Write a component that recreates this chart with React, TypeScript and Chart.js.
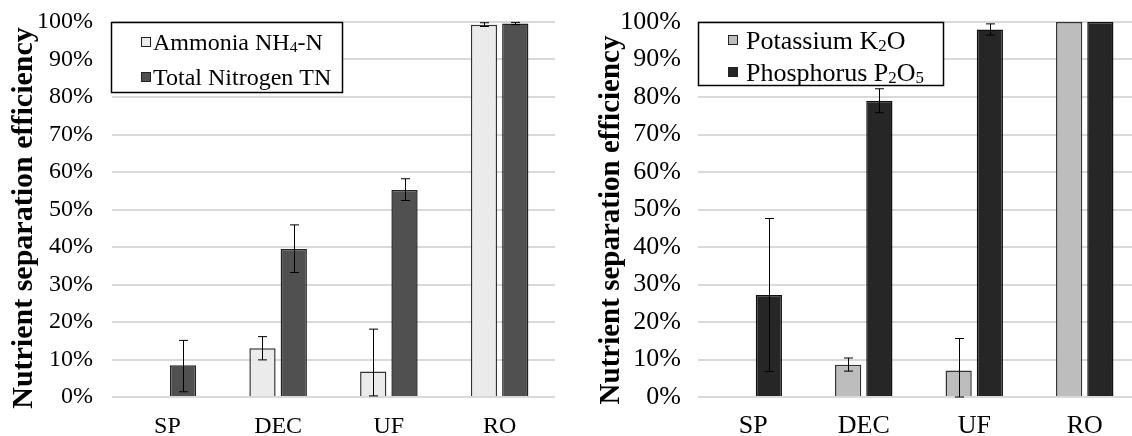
import React, { useEffect, useRef } from "react";
import { Chart, registerables } from "chart.js";

Chart.register(...registerables);

// ---------- data ----------
const categories = ["SP", "DEC", "UF", "RO"];
const yTitle = "Nutrient separation efficiency";

const ammoniaLabel = "Ammonia NH_4-N";
const ammonia = [null, 13.0, 6.8, 99.3];
const ammoniaErrUp = [null, 3.1, 11.3, 0.5];
const ammoniaErrDown = [null, 3.1, 6.5, 0.5];

const nitrogenLabel = "Total Nitrogen TN";
const nitrogen = [8.5, 39.5, 55.2, 99.6];
const nitrogenErrUp = [6.6, 6.4, 3.0, 0.3];
const nitrogenErrDown = [7.1, 6.3, 2.8, 0.3];

const potassiumLabel = "Potassium K_2O";
const potassium = [null, 8.6, 7.1, 100];
const potassiumErrUp = [null, 1.8, 8.5, 0];
const potassiumErrDown = [null, 1.7, 7.1, 0];

const phosphorusLabel = "Phosphorus P_2O_5";
const phosphorus = [27.2, 79.0, 98.0, 100];
const phosphorusErrUp = [20.4, 3.2, 1.5, 0];
const phosphorusErrDown = [20.4, 3.2, 1.5, 0];

const FONT = '"Liberation Serif", "Times New Roman", serif';

// ---------- plugins ----------
const errorBarPlugin = {
  id: "errorBars",
  afterDatasetsDraw(chart: any) {
    const ctx = chart.ctx;
    const yScale = chart.scales.y;
    ctx.save();
    ctx.strokeStyle = "#000";
    ctx.lineWidth = 1;
    chart.data.datasets.forEach((ds: any, i: number) => {
      const meta = chart.getDatasetMeta(i);
      meta.data.forEach((el: any, j: number) => {
        const v = ds.data[j];
        if (v === null || v === undefined) return;
        const up = ds.errUp ? ds.errUp[j] : 0;
        const down = ds.errDown ? ds.errDown[j] : 0;
        if (!up && !down) return;
        const x = Math.round(el.x) + 0.5;
        const yT = yScale.getPixelForValue(v + (up || 0));
        const yB = yScale.getPixelForValue(v - (down || 0));
        const cap = 4.5;
        ctx.beginPath();
        ctx.moveTo(x, yT);
        ctx.lineTo(x, yB);
        ctx.moveTo(x - cap, yT);
        ctx.lineTo(x + cap, yT);
        ctx.moveTo(x - cap, yB);
        ctx.lineTo(x + cap, yB);
        ctx.stroke();
      });
    });
    ctx.restore();
  },
};

function drawRich(ctx: CanvasRenderingContext2D, text: string, x: number, baseline: number, size: number) {
  const parts = text.split(/(_\d)/).filter((p) => p.length > 0);
  let cx = x;
  for (const p of parts) {
    if (p.startsWith("_")) {
      const s = p.slice(1);
      ctx.font = `${size * 0.65}px ${FONT}`;
      ctx.fillText(s, cx, baseline + size * 0.08);
      cx += ctx.measureText(s).width;
    } else {
      ctx.font = `${size}px ${FONT}`;
      ctx.fillText(p, cx, baseline);
      cx += ctx.measureText(p).width;
    }
  }
}

const boxLegendPlugin = {
  id: "boxLegend",
  afterDraw(chart: any, _args: any, opts: any) {
    if (!opts || !opts.box) return;
    const ctx = chart.ctx;
    const { x, y, w, h } = opts.box;
    ctx.save();
    ctx.fillStyle = "#fff";
    ctx.fillRect(x, y, w, h);
    ctx.strokeStyle = "#000";
    ctx.lineWidth = 1.5;
    ctx.strokeRect(x, y, w, h);
    ctx.textBaseline = "alphabetic";
    ctx.textAlign = "left";
    chart.data.datasets.forEach((ds: any, i: number) => {
      const cy = opts.rowY[i];
      const sq = opts.square;
      ctx.fillStyle = ds.backgroundColor;
      ctx.fillRect(opts.squareX, cy - sq / 2, sq, sq);
      ctx.strokeStyle = "#222";
      ctx.lineWidth = 1;
      ctx.strokeRect(opts.squareX + 0.5, cy - sq / 2 + 0.5, sq - 1, sq - 1);
      ctx.fillStyle = "#000";
      drawRich(ctx, ds.label, opts.textX, cy + opts.fontSize * 0.33, opts.fontSize);
    });
    ctx.restore();
  },
};

const axisTitlePlugin = {
  id: "axisTitle",
  afterDraw(chart: any, _args: any, opts: any) {
    if (!opts || !opts.text) return;
    const ctx = chart.ctx;
    ctx.save();
    ctx.translate(opts.x, opts.y);
    ctx.rotate(-Math.PI / 2);
    ctx.font = `bold ${opts.size}px ${FONT}`;
    ctx.fillStyle = "#000";
    ctx.textAlign = "center";
    ctx.textBaseline = "middle";
    ctx.fillText(opts.text, 0, 0);
    ctx.restore();
  },
};

type Series = { label: string; data: (number | null)[]; up: (number | null)[]; down: (number | null)[]; color: string; border: string };

type Spec = {
  series: Series[];
  fontSize: number;
  padRight: number;
  yWidth: number;
  xPad: number;
  yPad: number;
  legend: any;
  title: any;
};

function makeConfig(spec: Spec): any {
  const font = { family: FONT, size: spec.fontSize };
  return {
    type: "bar",
    data: {
      labels: categories,
      datasets: spec.series.map((s) => ({
        label: s.label,
        data: s.data,
        errUp: s.up,
        errDown: s.down,
        backgroundColor: s.color,
        borderColor: s.border,
        borderWidth: 1.5,
        categoryPercentage: 0.565,
        barPercentage: 0.84,
      })),
    },
    options: {
      responsive: false,
      animation: false,
      events: [],
      layout: { padding: { top: 22, right: spec.padRight, left: 0, bottom: 0 } },
      plugins: {
        legend: { display: false },
        tooltip: { enabled: false },
        boxLegend: spec.legend,
        axisTitle: spec.title,
      },
      scales: {
        x: {
          grid: { display: false, drawTicks: false },
          border: { display: false },
          ticks: { font, color: "#000", padding: spec.xPad },
          afterFit: (s: any) => {
            s.height = 45;
          },
        },
        y: {
          min: 0,
          max: 100,
          ticks: {
            stepSize: 10,
            font,
            color: "#000",
            padding: 0,
            callback: (v: any) => v + "%",
          },
          grid: {
            color: "#d9d9d9",
            lineWidth: 2,
            drawTicks: true,
            tickLength: spec.yPad,
            tickColor: "rgba(0,0,0,0)",
          },
          border: { display: false },
          afterFit: (s: any) => {
            s.width = spec.yWidth;
          },
        },
      },
    },
    plugins: [errorBarPlugin, boxLegendPlugin, axisTitlePlugin],
  };
}

function ChartPanel({ spec, width, height, left }: { spec: Spec; width: number; height: number; left: number }) {
  const ref = useRef<HTMLCanvasElement | null>(null);
  useEffect(() => {
    if (!ref.current) return;
    const chart = new Chart(ref.current, makeConfig(spec));
    return () => chart.destroy();
  }, []);
  return (
    <canvas
      ref={ref}
      width={width}
      height={height}
      style={{ position: "absolute", left, top: 0, width, height, display: "block" }}
    />
  );
}

const leftSpec: Spec = {
  series: [
    { label: ammoniaLabel, data: ammonia, up: ammoniaErrUp, down: ammoniaErrDown, color: "#ebebeb", border: "#333" },
    { label: nitrogenLabel, data: nitrogen, up: nitrogenErrUp, down: nitrogenErrDown, color: "#505050", border: "#222" },
  ],
  fontSize: 24,
  padRight: 11,
  yWidth: 112,
  xPad: 15.5,
  yPad: 19,
  legend: {
    box: { x: 111.5, y: 22.5, w: 231, h: 70 },
    rowY: [42, 77],
    square: 10,
    squareX: 141,
    textX: 153,
    fontSize: 24,
  },
  title: { text: yTitle, x: 24, y: 218, size: 30 },
};

const rightSpec: Spec = {
  series: [
    { label: potassiumLabel, data: potassium, up: potassiumErrUp, down: potassiumErrDown, color: "#bdbdbd", border: "#333" },
    { label: phosphorusLabel, data: phosphorus, up: phosphorusErrUp, down: phosphorusErrDown, color: "#262626", border: "#111" },
  ],
  fontSize: 26,
  padRight: 2,
  yWidth: 132,
  xPad: 13.6,
  yPad: 17,
  legend: {
    box: { x: 132.5, y: 22.5, w: 245, h: 63 },
    rowY: [40, 72],
    square: 10,
    squareX: 162,
    textX: 180,
    fontSize: 26,
  },
  title: { text: yTitle, x: 46, y: 220, size: 29 },
};

export default function App() {
  return (
    <div
      style={{
        position: "fixed",
        left: 0,
        top: 0,
        width: 1132,
        height: 436,
        overflow: "hidden",
        background: "#fff",
      }}
    >
      <ChartPanel spec={leftSpec} width={566} height={442} left={0} />
      <ChartPanel spec={rightSpec} width={576} height={442} left={566} />
    </div>
  );
}
